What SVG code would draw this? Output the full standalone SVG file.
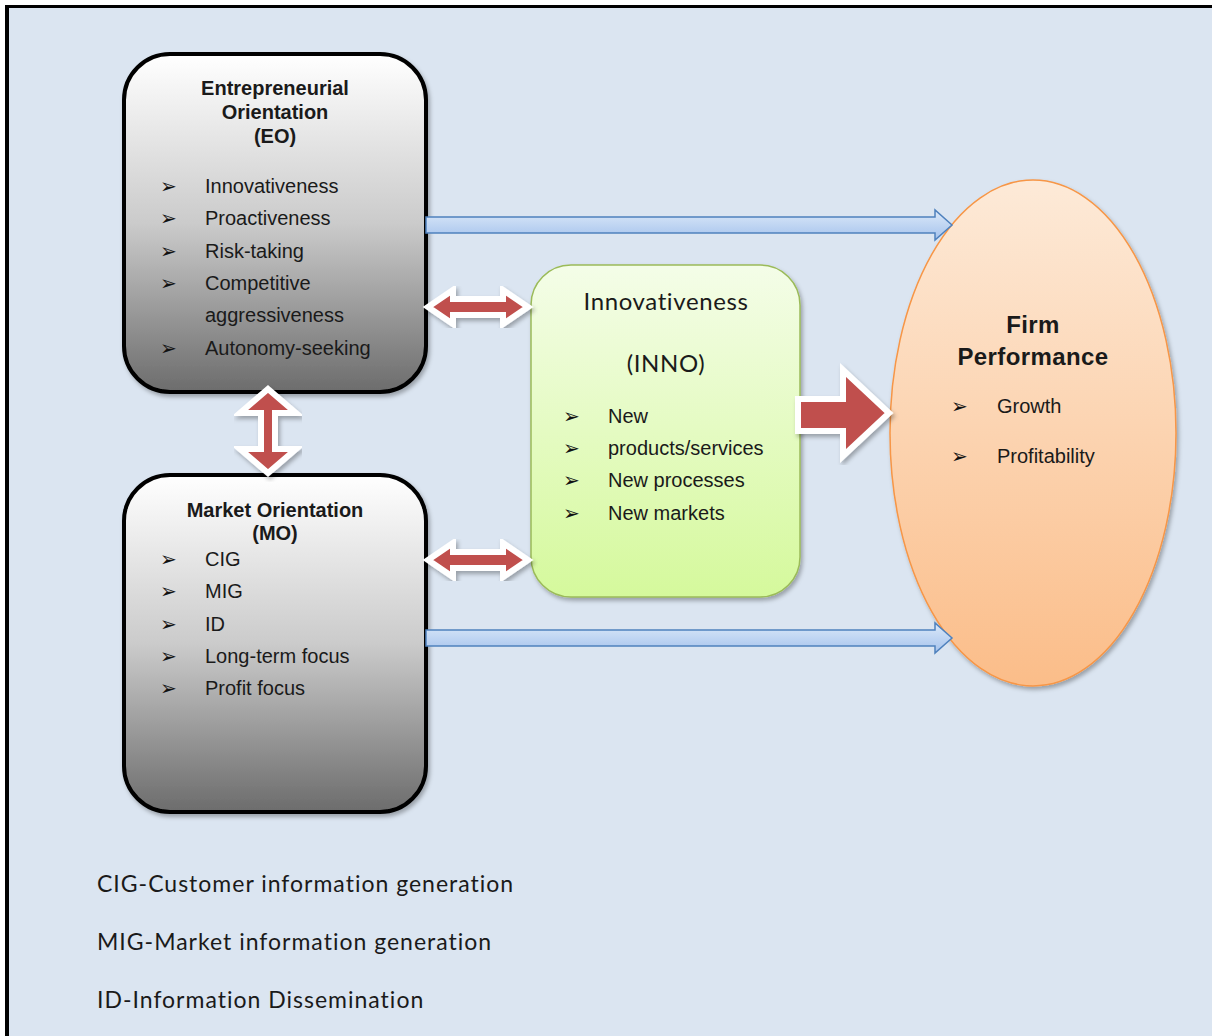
<svg xmlns="http://www.w3.org/2000/svg" width="1212" height="1036" viewBox="0 0 1212 1036">
<defs>
<linearGradient id="gray" x1="0" y1="0" x2="0" y2="1">
<stop offset="0" stop-color="#ffffff"/>
<stop offset="0.5" stop-color="#cbcbcb"/>
<stop offset="1" stop-color="#6c6c6c"/>
</linearGradient>
<linearGradient id="green" x1="0" y1="0" x2="0" y2="1">
<stop offset="0" stop-color="#f4fde8"/>
<stop offset="1" stop-color="#d5f99c"/>
</linearGradient>
<linearGradient id="orange" x1="0" y1="0" x2="0" y2="1">
<stop offset="0" stop-color="#fdead8"/>
<stop offset="1" stop-color="#fbbd89"/>
</linearGradient>
<linearGradient id="blue" x1="0" y1="0" x2="0" y2="1">
<stop offset="0" stop-color="#dce9f9"/>
<stop offset="1" stop-color="#a4c2ec"/>
</linearGradient>
<filter id="sh" x="-10%" y="-10%" width="120%" height="120%">
<feDropShadow dx="2" dy="3" stdDeviation="2" flood-color="#000" flood-opacity="0.3"/>
</filter>
</defs>
<style>
.box{stroke:#000;stroke-width:4;fill:url(#gray)}
.t{font-family:"Liberation Sans",Arial,sans-serif;fill:#1a1a1a}
.tb{font-family:"Liberation Sans",Arial,sans-serif;font-weight:bold;fill:#1a1a1a}
.it{font-size:20px}
.bl{font-family:"DejaVu Sans",sans-serif;font-size:20px;fill:#111}
.cal{font-family:Lato,"Open Sans",sans-serif;fill:#1a1a1a}
.red{fill:#c0504d;stroke:#fff;stroke-width:6;stroke-linejoin:miter}
.blu{fill:url(#blue);stroke:#4f81bd;stroke-width:1.5}
</style>
<rect x="5" y="5" width="1207" height="1031" fill="#000"/>
<rect x="9" y="8" width="1203" height="1028" fill="#dbe5f1"/>

<g id="eo">
<rect class="box" x="124" y="54" width="302" height="338" rx="46" filter="url(#sh)"/>
<text class="tb" font-size="20" text-anchor="middle" x="275" y="95">Entrepreneurial</text>
<text class="tb" font-size="20" text-anchor="middle" x="275" y="119">Orientation</text>
<text class="tb" font-size="20" text-anchor="middle" x="275" y="143">(EO)</text>
<text class="bl" x="160" y="193">➢</text><text class="t it" x="205" y="193">Innovativeness</text>
<text class="bl" x="160" y="225">➢</text><text class="t it" x="205" y="225">Proactiveness</text>
<text class="bl" x="160" y="258">➢</text><text class="t it" x="205" y="258">Risk-taking</text>
<text class="bl" x="160" y="290">➢</text><text class="t it" x="205" y="290">Competitive</text>
<text class="t it" x="205" y="322">aggressiveness</text>
<text class="bl" x="160" y="355">➢</text><text class="t it" x="205" y="355">Autonomy-seeking</text>
</g>

<g id="mo">
<rect class="box" x="124" y="475" width="302" height="337" rx="46" filter="url(#sh)"/>
<text class="tb" font-size="20" text-anchor="middle" x="275" y="517">Market Orientation</text>
<text class="tb" font-size="20" text-anchor="middle" x="275" y="540">(MO)</text>
<text class="bl" x="160" y="566">➢</text><text class="t it" x="205" y="566">CIG</text>
<text class="bl" x="160" y="598">➢</text><text class="t it" x="205" y="598">MIG</text>
<text class="bl" x="160" y="631">➢</text><text class="t it" x="205" y="631">ID</text>
<text class="bl" x="160" y="663">➢</text><text class="t it" x="205" y="663">Long-term focus</text>
<text class="bl" x="160" y="695">➢</text><text class="t it" x="205" y="695">Profit focus</text>
</g>

<g id="inno">
<rect x="531" y="265" width="269" height="332" rx="40" fill="url(#green)" stroke="#9bbb59" stroke-width="1.5" filter="url(#sh)"/>
<text class="cal" font-size="24" letter-spacing="0.6" text-anchor="middle" x="666" y="310">Innovativeness</text>
<text class="cal" font-size="24" letter-spacing="0.6" text-anchor="middle" x="666" y="372">(INNO)</text>
<text class="bl" x="563" y="423">➢</text><text class="t it" x="608" y="423">New</text>
<text class="bl" x="563" y="455">➢</text><text class="t it" x="608" y="455">products/services</text>
<text class="bl" x="563" y="487">➢</text><text class="t it" x="608" y="487">New processes</text>
<text class="bl" x="563" y="520">➢</text><text class="t it" x="608" y="520">New markets</text>
</g>

<g id="fp">
<ellipse cx="1033" cy="433" rx="143" ry="253" fill="url(#orange)" stroke="#f79646" stroke-width="1.5" filter="url(#sh)"/>
<text class="tb" font-size="24" letter-spacing="0.4" text-anchor="middle" x="1033" y="333">Firm</text>
<text class="tb" font-size="24" letter-spacing="0.4" text-anchor="middle" x="1033" y="365">Performance</text>
<text class="bl" x="951" y="413">➢</text><text class="t it" x="997" y="413">Growth</text>
<text class="bl" x="951" y="463">➢</text><text class="t it" x="997" y="463">Profitability</text>
</g>

<g id="connectors">
<polygon class="blu" points="426,217 935,217 935,210 952,225 935,240 935,233 426,233"/>
<polygon class="blu" points="426,630 935,630 935,623 952,638 935,653 935,646 426,646"/>
<polygon class="red" filter="url(#sh)" points="428,307 453,290 453,299 503,299 503,290 528,307 503,324 503,315 453,315 453,324"/>
<polygon class="red" filter="url(#sh)" points="428,560 453,543 453,552 503,552 503,543 528,560 503,577 503,568 453,568 453,577"/>
<polygon class="red" filter="url(#sh)" points="268,389 296,413 275,413 275,449 296,449 268,473 240,449 261,449 261,413 240,413"/>
<polygon class="red" filter="url(#sh)" points="798,399 843,399 843,370 889,413 843,456 843,431 798,431"/>
</g>

<g id="legend">
<text class="cal" font-size="23" letter-spacing="1" x="97" y="892">CIG-Customer information generation</text>
<text class="cal" font-size="23" letter-spacing="1" x="97" y="950">MIG-Market information generation</text>
<text class="cal" font-size="23" letter-spacing="1" x="97" y="1008">ID-Information Dissemination</text>
</g>
</svg>
